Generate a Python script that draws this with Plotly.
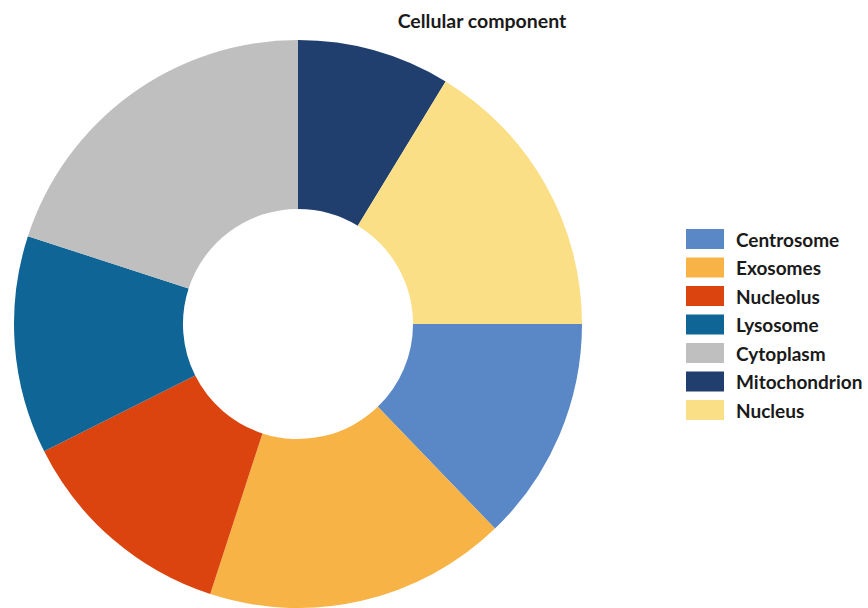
import plotly.graph_objects as go

# Cellular component distribution (share of proteins, %)
labels = ["Centrosome", "Exosomes", "Nucleolus", "Lysosome",
          "Cytoplasm", "Mitochondrion", "Nucleus"]
values = [12.8, 17.2, 12.6, 12.4, 20.0, 8.7, 16.3]
colors = ["#5A87C6", "#F7B345", "#DC440F", "#0F6595",
          "#BFBFBF", "#213F6E", "#FADF86"]

W, H = 868, 608
FONT = "Lato"

fig = go.Figure()
fig.add_trace(go.Pie(
    labels=labels,
    values=values,
    marker=dict(colors=colors, line=dict(width=0)),
    hole=0.405,
    sort=False,
    direction="clockwise",
    rotation=90,
    textinfo="none",
    hoverinfo="label+percent",
    showlegend=False,
    domain=dict(x=[13 / W, 583 / W], y=[0, 568 / H]),
))

# Custom legend: wide colour swatches with bold labels
x0, x1 = 686, 724
y_first, step, sw_h = 239, 28.5, 20
for i, (lab, col) in enumerate(zip(labels, colors)):
    yc = y_first + i * step
    fig.add_shape(type="rect", xref="paper", yref="paper",
                  x0=x0 / W, x1=x1 / W,
                  y0=1 - (yc - sw_h / 2) / H, y1=1 - (yc + sw_h / 2) / H,
                  fillcolor=col, line=dict(width=0))
    fig.add_annotation(xref="paper", yref="paper", x=734 / W, y=1 - yc / H,
                       xanchor="left", yanchor="middle", showarrow=False,
                       text=f"<b>{lab}</b>",
                       font=dict(family=FONT, size=19, color="#1a1a1a"))

fig.update_layout(
    width=W, height=H,
    margin=dict(l=0, r=0, t=0, b=0),
    paper_bgcolor="white", plot_bgcolor="white",
    title=dict(text="<b>Cellular component</b>", x=482 / W, xanchor="center",
               y=1 - 21 / H, yanchor="middle",
               font=dict(family=FONT, size=19.5, color="#1a1a1a")),
)

fig.write_html("out.html")
